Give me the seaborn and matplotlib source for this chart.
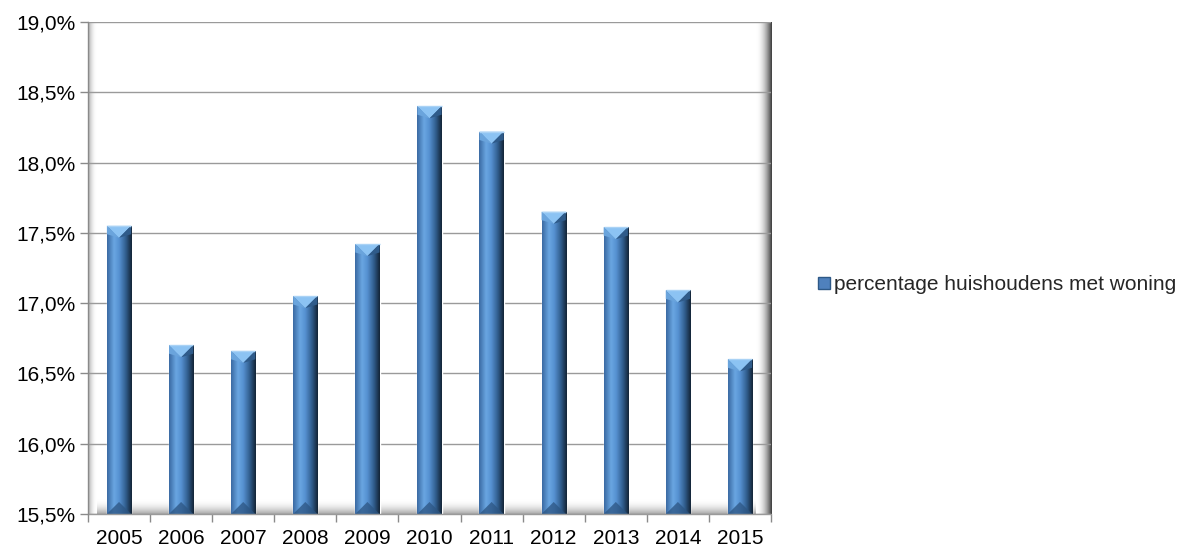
import numpy as np
import pandas as pd
import matplotlib
matplotlib.use("Agg")
import matplotlib.pyplot as plt
from matplotlib.colors import LinearSegmentedColormap
from matplotlib.patches import Polygon
from matplotlib.ticker import FuncFormatter, MultipleLocator
import seaborn as sns

years = ["2005", "2006", "2007", "2008", "2009", "2010",
         "2011", "2012", "2013", "2014", "2015"]
percentages = [17.55, 16.70, 16.66, 17.05, 17.42, 18.40,
               18.22, 17.65, 17.54, 17.09, 16.60]
series_name = "percentage huishoudens met woning"

df = pd.DataFrame({"jaar": years, "pct": percentages})

sns.set_theme(style="white")
plt.rcParams["font.family"] = ["Liberation Sans", "DejaVu Sans"]

fig = plt.figure(figsize=(11.84, 5.51), dpi=100)
ax = fig.add_axes([0.0743, 0.0672, 0.5769, 0.8929])

y_min, y_max = 15.5, 19.0
sns.barplot(data=df, x="jaar", y="pct", color="#4F81BD", width=0.39,
            ax=ax, zorder=3, saturation=1)
ax.set_ylim(y_min, y_max)
ax.set_xlim(-0.5, len(years) - 0.5)

# cylinder-like horizontal shading for each bar
bar_cmap = LinearSegmentedColormap.from_list(
    "bar", [(0.0, "#3a6aa2"), (0.28, "#6aa6e2"), (0.5, "#5590d0"),
            (0.78, "#2e5987"), (1.0, "#132436")])
grad = np.linspace(0, 1, 64)[None, :]
px_per_unit = (0.8929 * 551) / (y_max - y_min)
cap = 12 / px_per_unit
for patch in ax.patches:
    x0 = patch.get_x()
    w = patch.get_width()
    top = patch.get_y() + patch.get_height()
    img = ax.imshow(grad, cmap=bar_cmap, aspect="auto",
                    extent=[x0, x0 + w, y_min, top], zorder=4,
                    interpolation="bicubic")
    img.set_clip_path(patch)
    xc = x0 + w / 2
    # bevelled top
    ax.add_patch(Polygon([[x0, top], [x0 + w, top], [xc, top - cap]],
                         closed=True, facecolor="#8cc3f3", edgecolor="none",
                         zorder=5))
    ax.add_patch(Polygon([[x0, top], [xc, top - cap], [x0, top - cap * 0.7]],
                         closed=True, facecolor="#6aa4dc", edgecolor="none",
                         zorder=5))
    ax.add_patch(Polygon([[x0 + w, top], [xc, top - cap],
                          [x0 + w, top - cap * 0.7]],
                         closed=True, facecolor="#2f5b8a", edgecolor="none",
                         zorder=5))
    # bevelled base
    ax.add_patch(Polygon([[x0, y_min], [x0 + w, y_min], [xc, y_min + cap]],
                         closed=True, facecolor="#2c5582", alpha=0.75,
                         edgecolor="none", zorder=5))
    ax.plot([x0, x0 + w], [top, top], color="#a9d2f5", lw=1.0, zorder=6,
            solid_capstyle="butt")

# walls and floor of the plot area
wall = LinearSegmentedColormap.from_list("wall", ["#ffffff", "#3a3a3a"])
ax.imshow(np.linspace(0, 1, 64)[:, None] ** 2 * 0.45, cmap=wall,
          vmin=0, vmax=1, aspect="auto", extent=[0.0, 1.0, 0.0, 0.03],
          transform=ax.transAxes, zorder=1, interpolation="bicubic")
ax.imshow(np.linspace(0, 1, 64)[None, :] ** 2, cmap=wall, aspect="auto",
          extent=[0.978, 1.0, 0.0, 1.0], transform=ax.transAxes, zorder=1.5,
          interpolation="bicubic")
ax.imshow(np.linspace(1, 0, 64)[None, :] ** 2 * 0.45, cmap=wall,
          vmin=0, vmax=1, aspect="auto", extent=[0.0, 0.012, 0.0, 1.0],
          transform=ax.transAxes, zorder=1.5, interpolation="bicubic")
ax.set_xlim(-0.5, len(years) - 0.5)
ax.set_ylim(y_min, y_max)

# gridlines
ax.yaxis.set_major_locator(MultipleLocator(0.5))
ax.grid(axis="y", color="#9a9a9a", lw=1.0, zorder=2)
ax.set_axisbelow(False)
for gl in ax.get_ygridlines():
    gl.set_zorder(2)

ax.yaxis.set_major_formatter(
    FuncFormatter(lambda v, _: f"{v:.1f}".replace(".", ",") + "%"))

for side in ("top", "right", "bottom"):
    ax.spines[side].set_visible(False)
ax.spines["left"].set_color("#8a8a8a")
ax.spines["left"].set_linewidth(1.0)
ax.spines["left"].set_zorder(7)

ax.set_xlabel("")
ax.set_ylabel("")
ax.tick_params(axis="y", which="major", left=True, length=6, width=1,
               color="#8a8a8a", labelsize=15, pad=3, labelcolor="#000000")
ax.tick_params(axis="x", which="major", bottom=False, labelsize=15,
               pad=5, labelcolor="#000000")
# category boundary ticks on the x axis
ax.set_xticks(np.arange(-0.5, len(years)), minor=True)
ax.tick_params(axis="x", which="minor", bottom=True, length=6, width=1,
               color="#8a8a8a")
ax.plot([-0.5, len(years) - 0.5], [y_min, y_min], color="#9a9a9a", lw=1.0,
        zorder=7, clip_on=False)

handle = plt.Rectangle((0, 0), 1, 1, facecolor="#4F81BD", edgecolor="#2e5987")
fig.legend([handle], [series_name], loc="center left",
           bbox_to_anchor=(0.684, 0.483), frameon=False, fontsize=15,
           handlelength=0.55, handleheight=0.55, handletextpad=0.2,
           borderaxespad=0)

fig.savefig("out.png", dpi=100)
